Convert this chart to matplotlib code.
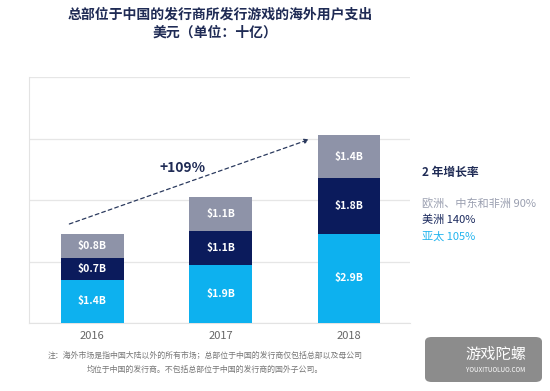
import matplotlib
matplotlib.use("Agg")
import matplotlib.pyplot as plt
from matplotlib.patches import FancyBboxPatch

plt.rcParams["font.family"] = ["Noto Sans CJK SC", "DejaVu Sans"]

years = ["2016", "2017", "2018"]
apac = [1.4, 1.9, 2.9]
americas = [0.7, 1.1, 1.8]
emea = [0.8, 1.1, 1.4]
growth_label = "+109%"
legend_items = [("欧洲、中东和非洲 90%", "#9A9FB0"),
                ("美洲 140%", "#1B2A5E"),
                ("亚太 105%", "#22B4EE")]

C_APAC = "#0DB1EF"
C_AM = "#0B1B5C"
C_EMEA = "#8E93A8"
C_TEXT = "#1F2B55"

fig = plt.figure(figsize=(5.5, 3.91), dpi=100)
ax = fig.add_axes([29 / 550, 1 - 323 / 391, (410 - 29) / 550, (323 - 77) / 391])

x = list(range(len(years)))
w = 0.49
b1 = ax.bar(x, apac, w, color=C_APAC, zorder=3)
b2 = ax.bar(x, americas, w, bottom=apac, color=C_AM, zorder=3)
bottom3 = [a + b for a, b in zip(apac, americas)]
b3 = ax.bar(x, emea, w, bottom=bottom3, color=C_EMEA, zorder=3)

for bars, vals, bots in [(b1, apac, [0] * 3), (b2, americas, apac), (b3, emea, bottom3)]:
    for xi, v, b in zip(x, vals, bots):
        ax.text(xi, b + v / 2, f"${v:.1f}B", ha="center", va="center",
                color="white", fontsize=7.5, fontweight="bold", zorder=4)

ax.set_xlim(-0.494, 2.475)
ax.set_ylim(0, 8)
ax.set_yticks([0, 2, 4, 6, 8])
ax.yaxis.grid(True, color="#E6E6E6", lw=0.9, zorder=0)
ax.set_axisbelow(True)
ax.tick_params(left=False, labelleft=False, bottom=False)
ax.set_xticks(x)
ax.set_xticklabels(years, fontsize=8, color="#666666")
ax.tick_params(axis="x", pad=2)
for s in ["top", "right"]:
    ax.spines[s].set_visible(False)
ax.spines["left"].set_color("#E3E3E3")
ax.spines["bottom"].set_color("#E3E3E3")

# growth arrow
ax.annotate("", xy=(1.71, 6.0), xytext=(-0.2, 3.19),
            arrowprops=dict(arrowstyle="-|>", color="#2B3A5E", lw=0.9,
                            ls=(0, (3, 2.5)), mutation_scale=7), zorder=5)
ax.text(0.70, 5.05, growth_label, ha="center", va="center", fontsize=10,
        fontweight="bold", color=C_TEXT, zorder=5)

# title
fig.text(220 / 550, 1 - 15 / 391, "总部位于中国的发行商所发行游戏的海外用户支出",
         ha="center", va="center", fontsize=10, fontweight="bold", color=C_TEXT)
fig.text(215 / 550, 1 - 33 / 391, "美元（单位：十亿）",
         ha="center", va="center", fontsize=10, fontweight="bold", color=C_TEXT)

# legend text
fig.text(422 / 550, 1 - 172 / 391, "2 年增长率", ha="left", va="center",
         fontsize=8.5, fontweight="bold", color=C_TEXT)
for i, (lab, col) in enumerate(legend_items):
    fig.text(422 / 550, 1 - (203 + 17 * i) / 391, lab, ha="left", va="center",
             fontsize=8, color=col)

# footnote
fig.text(205 / 550, 1 - 355 / 391,
         "注：海外市场是指中国大陆以外的所有市场；总部位于中国的发行商仅包括总部以及母公司",
         ha="center", va="center", fontsize=5.7, color="#777777")
fig.text(205 / 550, 1 - 369 / 391,
         "均位于中国的发行商。不包括总部位于中国的发行商的国外子公司。",
         ha="center", va="center", fontsize=5.7, color="#777777")

# logo box
logo = FancyBboxPatch((425 / 550, 1 - 382 / 391), 117 / 550, 45 / 391,
                      boxstyle="round,pad=0,rounding_size=0.012",
                      transform=fig.transFigure, facecolor="#8C8C8C",
                      edgecolor="none")
fig.patches.append(logo)
fig.text(496 / 550, 1 - 354 / 391, "游戏陀螺", ha="center", va="center",
         fontsize=11, color="white")
fig.text(496 / 550, 1 - 370 / 391, "YOUXITUOLUO.COM", ha="center", va="center",
         fontsize=4.5, color="white")

fig.savefig("out.png", dpi=100, facecolor="white")
